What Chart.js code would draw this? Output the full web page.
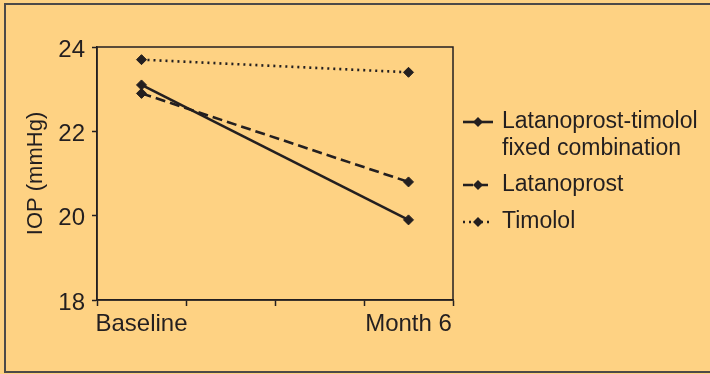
<!DOCTYPE html>
<html lang="en">
<head>
  <meta charset="UTF-8">
  <title>IOP over time</title>
  <style>
    * {
      margin: 0;
      padding: 0;
      box-sizing: border-box;
    }

    body {
      background-color: #fed283;
      width: 710px;
      height: 374px;
      overflow: hidden;
    }

    #chartBox {
      position: relative;
      width: 710px;
      height: 374px;
    }
  </style>
  <script src="https://cdn.jsdelivr.net/npm/chart.js"></script>
</head>
<body>
  <div id="chartBox">
    <canvas id="iopChart" width="710" height="374"></canvas>
  </div>

  <script>
    // Chart data
    const timepoints = ['Baseline', 'Month 6'];
    const fixedCombination = [23.1, 19.9];
    const latanoprost = [22.9, 20.8];
    const timolol = [23.7, 23.4];
    const yTicks = [18, 20, 22, 24];

    const ink = '#231f20';
    const fontFamily = '"Liberation Sans", Arial, sans-serif';

    // The x axis has four slots; the two timepoints sit in the outer ones
    const slotLabels = [timepoints[0], '', '', timepoints[1]];
    function toSlots(values) {
      return [values[0], null, null, values[1]];
    }

    // Background, outer frame and plot box
    const framePlugin = {
      id: 'frame',
      beforeDraw(chart) {
        const ctx = chart.ctx;
        ctx.save();
        ctx.fillStyle = '#fed283';
        ctx.fillRect(0, 0, chart.width, chart.height);
        ctx.strokeStyle = '#4d4a48';
        ctx.lineWidth = 2;
        ctx.beginPath();
        ctx.moveTo(710, 4);
        ctx.lineTo(5, 4);
        ctx.lineTo(5, 372);
        ctx.lineTo(710, 372);
        ctx.stroke();
        ctx.restore();
      },
      beforeDatasetsDraw(chart) {
        const a = chart.chartArea;
        const ctx = chart.ctx;
        ctx.save();
        ctx.strokeStyle = ink;
        ctx.lineWidth = 1.5;
        ctx.strokeRect(a.left, a.top, a.right - a.left, a.bottom - a.top);
        ctx.restore();
      }
    };

    // Legend drawn at the right, with the two-line first entry
    const legendPlugin = {
      id: 'sideLegend',
      afterDraw(chart) {
        const ctx = chart.ctx;
        const rows = [
          { ds: 0, lines: ['Latanoprost-timolol', 'fixed combination'], y: 122 },
          { ds: 1, lines: ['Latanoprost'], y: 185 },
          { ds: 2, lines: ['Timolol'], y: 222 }
        ];
        ctx.save();
        rows.forEach(row => {
          const ds = chart.data.datasets[row.ds];
          ctx.strokeStyle = ds.borderColor;
          ctx.lineWidth = ds.borderWidth;
          ctx.setLineDash(ds.borderDash || []);
          ctx.beginPath();
          ctx.moveTo(463, row.y);
          ctx.lineTo(493, row.y);
          ctx.stroke();
          ctx.setLineDash([]);
          // diamond marker
          ctx.fillStyle = ds.pointBackgroundColor;
          ctx.beginPath();
          ctx.moveTo(478, row.y - 5);
          ctx.lineTo(483, row.y);
          ctx.lineTo(478, row.y + 5);
          ctx.lineTo(473, row.y);
          ctx.closePath();
          ctx.fill();

          ctx.fillStyle = ink;
          ctx.font = '23px ' + fontFamily;
          ctx.textBaseline = 'middle';
          row.lines.forEach((t, i) => {
            ctx.fillText(t, 502, row.y + i * 27);
          });
        });
        ctx.restore();
      }
    };

    function makeDataset(label, values, dash, width) {
      return {
        label: label,
        data: toSlots(values),
        borderColor: ink,
        backgroundColor: ink,
        borderWidth: width,
        borderDash: dash,
        pointStyle: 'rectRot',
        pointRadius: 5,
        pointBackgroundColor: ink,
        pointBorderColor: ink,
        pointBorderWidth: 1,
        spanGaps: true,
        tension: 0
      };
    }

    const ctx = document.getElementById('iopChart').getContext('2d');
    new Chart(ctx, {
      type: 'line',
      data: {
        labels: slotLabels,
        datasets: [
          makeDataset('Latanoprost-timolol fixed combination', fixedCombination, [], 2.6),
          makeDataset('Latanoprost', latanoprost, [10, 5], 2.6),
          makeDataset('Timolol', timolol, [2, 4], 2.6)
        ]
      },
      options: {
        responsive: false,
        animation: false,
        layout: {
          padding: { left: 0, top: 47, right: 257, bottom: 0 }
        },
        plugins: {
          legend: { display: false },
          tooltip: { enabled: false }
        },
        scales: {
          x: {
            type: 'category',
            offset: true,
            afterFit(scale) { scale.height = 74; },
            border: { display: true, color: ink, width: 1.5 },
            grid: {
              offset: true,
              drawOnChartArea: false,
              drawTicks: true,
              tickLength: 6,
              tickWidth: 1.5,
              tickColor: ink
            },
            ticks: {
              color: ink,
              font: { family: fontFamily, size: 24 },
              padding: 4,
              maxRotation: 0,
              autoSkip: false
            }
          },
          y: {
            min: 18,
            max: 24,
            afterFit(scale) { scale.width = 97; },
            afterBuildTicks(scale) {
              scale.ticks = yTicks.map(v => ({ value: v }));
            },
            border: { display: true, color: ink, width: 1.5 },
            grid: {
              drawOnChartArea: false,
              drawTicks: true,
              tickLength: 5,
              tickWidth: 1.5,
              tickColor: ink
            },
            ticks: {
              color: ink,
              font: { family: fontFamily, size: 24 },
              padding: 7,
              labelOffset: 3
            },
            title: {
              display: true,
              text: 'IOP (mmHg)',
              color: ink,
              font: { family: fontFamily, size: 22 },
              padding: { top: 23, bottom: 0 }
            }
          }
        }
      },
      plugins: [framePlugin, legendPlugin]
    });
  </script>
</body>
</html>
